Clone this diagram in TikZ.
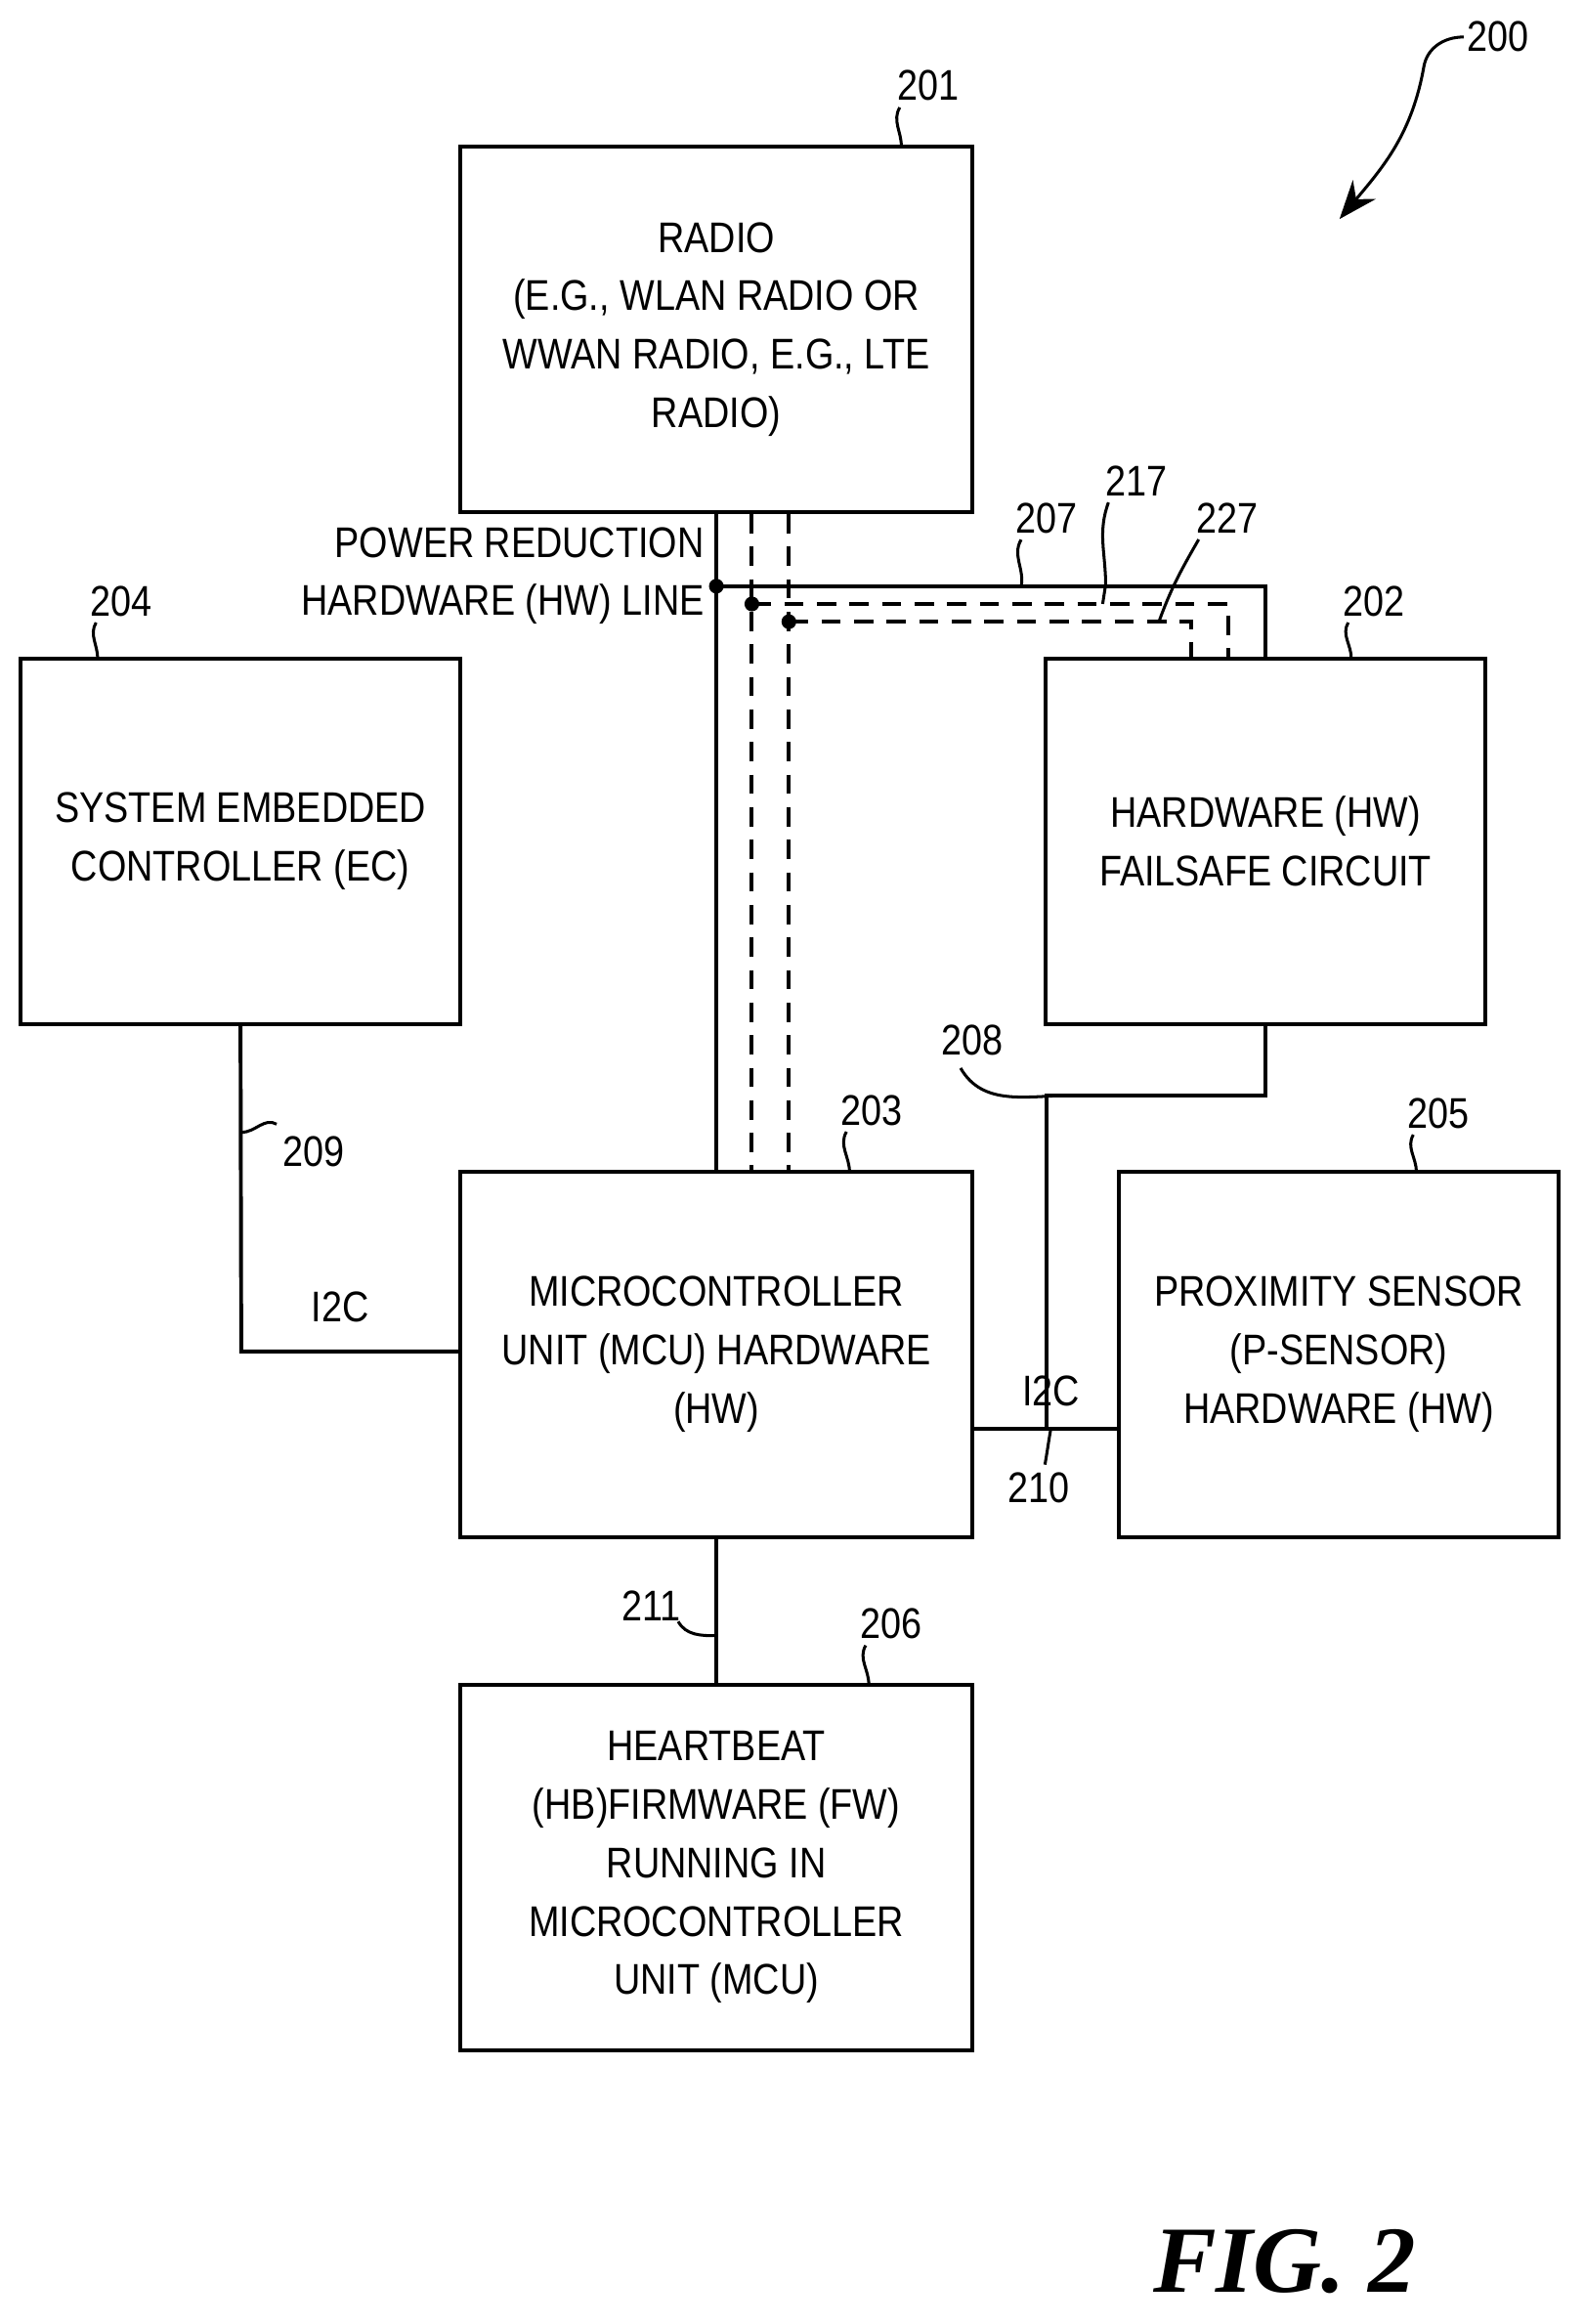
\documentclass[tikz,border=0pt]{standalone}
\usepackage{fontspec}
\setmainfont{Liberation Sans}[FakeStretch=0.86]
\newfontfamily\figfont{Liberation Serif}
\usetikzlibrary{arrows.meta}

\begin{document}
\begin{tikzpicture}[x=1pt,y=-1pt,line width=2.6pt,
    box/.style={draw,line width=2.6pt,minimum width=346pt,minimum height=247pt,inner sep=0pt,
      align=center,font=\fontsize{29}{39.5}\selectfont},
    ref/.style={font=\fontsize{29}{34}\selectfont,inner sep=1pt},
    lead/.style={line width=2pt},
    hwline/.style={dash pattern=on 13pt off 9pt},
    dot/.style={circle,fill,inner sep=0pt,minimum size=10pt}]
    \useasboundingbox (0,0) rectangle (1070,1570);

    % blocks
    \node[box] (radio) at (484,222.5) {RADIO\\(E.G., WLAN RADIO OR\\WWAN RADIO, E.G., LTE\\RADIO)};
    \node[box,minimum width=297pt] (ec) at (162.5,568.5) {SYSTEM EMBEDDED\\CONTROLLER (EC)};
    \node[box,minimum width=297pt] (fs) at (855,568.5) {HARDWARE (HW)\\FAILSAFE CIRCUIT};
    \node[box] (mcu) at (484,915) {MICROCONTROLLER\\UNIT (MCU) HARDWARE\\(HW)};
    \node[box,minimum width=297pt] (ps) at (904.5,915) {PROXIMITY SENSOR\\(P-SENSOR)\\HARDWARE (HW)};
    \node[box] (hb) at (484,1261.5) {HEARTBEAT\\(HB)FIRMWARE (FW)\\RUNNING IN\\MICROCONTROLLER\\UNIT (MCU)};

    % power reduction lines
    \coordinate (p1) at (484,396);
    \coordinate (p2) at (508,408);
    \coordinate (p3) at (533,420);
    \draw (radio.south -| p1) -- (mcu.north -| p1);
    \draw (p1) -| (fs.north);
    \draw[hwline] (radio.south -| p2) -- (mcu.north -| p2);
    \draw[hwline] (p2) -| ([xshift=-25pt]fs.north);
    \draw[hwline] (radio.south -| p3) -- (mcu.north -| p3);
    \draw[hwline] (p3) -| ([xshift=-50pt]fs.north);
    \foreach \p in {p1,p2,p3}
        \node[dot] at (\p) {};
    \node[ref,align=right,anchor=east,font=\fontsize{29}{39.5}\selectfont] (prl) at (478,389) {POWER REDUCTION\\HARDWARE (HW) LINE};

    % connectors
    \coordinate (c208a) at (855,740);
    \coordinate (c208b) at (707,740);
    \draw (fs.south) -- (c208a) -- (c208b) |- ([yshift=-50pt]mcu.east);
    \coordinate (c209) at (163,913);
    \draw (ec.south) -- (c209) -- (mcu.west |- c209);
    \draw (mcu.east |- 0,965) -- (ps.west |- 0,965);
    \draw (mcu.south) -- (hb.north);
    \node[ref] (i2ca) at (230,883) {I2C};
    \node[ref] (i2cb) at (710,940) {I2C};

    % reference numerals
    \node[ref] (n200) at (1012,25) {200};
    \draw[lead,-{Stealth[length=26pt,width=20pt]}] (n200.west) to[out=180,in=80] (962,45) to[out=-100,in=50] (905,148);
    \node[ref] (n201) at (627,58) {201};
    \draw[lead] (n201.south west) ++(4,2) to[out=-120,in=90] (609,99);
    \node[ref] (n204) at (82,406) {204};
    \draw[lead] (n204.south west) ++(6,2) to[out=-120,in=90] (66,445);
    \node[ref] (n202) at (928,406) {202};
    \draw[lead] (n202.south west) ++(6,2) to[out=-120,in=90] (913,445);
    \node[ref] (n203) at (589,750) {203};
    \draw[lead] (n203.south west) ++(6,2) to[out=-120,in=90] (574,792);
    \node[ref] (n205) at (972,752) {205};
    \draw[lead] (n205.south west) ++(6,2) to[out=-120,in=90] (957,792);
    \node[ref] (n206) at (602,1097) {206};
    \draw[lead] (n206.south west) ++(6,2) to[out=-120,in=90] (587,1138);
    \node[ref] (n207) at (707,350) {207};
    \draw[lead] (n207.south west) ++(6,2) to[out=-120,in=80] (690,396);
    \node[ref] (n217) at (768,325) {217};
    \draw[lead] (n217.south west) ++(4,2) to[out=-110,in=90] (747,395) -- (745,408);
    \node[ref] (n227) at (829,350) {227};
    \draw[lead] (n227.south west) ++(4,2) to[out=-120,in=70] (783,420);
    \node[ref] (n208) at (657,703) {208};
    \draw[lead] (n208.south) ++(-8,6) to[out=-60,in=180] (725,740);
    \node[ref] (n209) at (212,778) {209};
    \draw[lead] (n209.north west) ++(-2,-6) to[out=150,in=0] (163,765);
    \node[ref] (n210) at (702,1005) {210};
    \draw[lead] (n210.north) ++(4,-3) to[out=80,in=-100] (710,965);
    \node[ref] (n211) at (440,1085) {211};
    \draw[lead] (n211.south east) ++(-4,-2) to[out=-60,in=180] (484,1105);

    \node[font=\figfont\bfseries\itshape\fontsize{64}{70}\selectfont] (fig) at (868,1528) {FIG. 2};
\end{tikzpicture}
\end{document}
